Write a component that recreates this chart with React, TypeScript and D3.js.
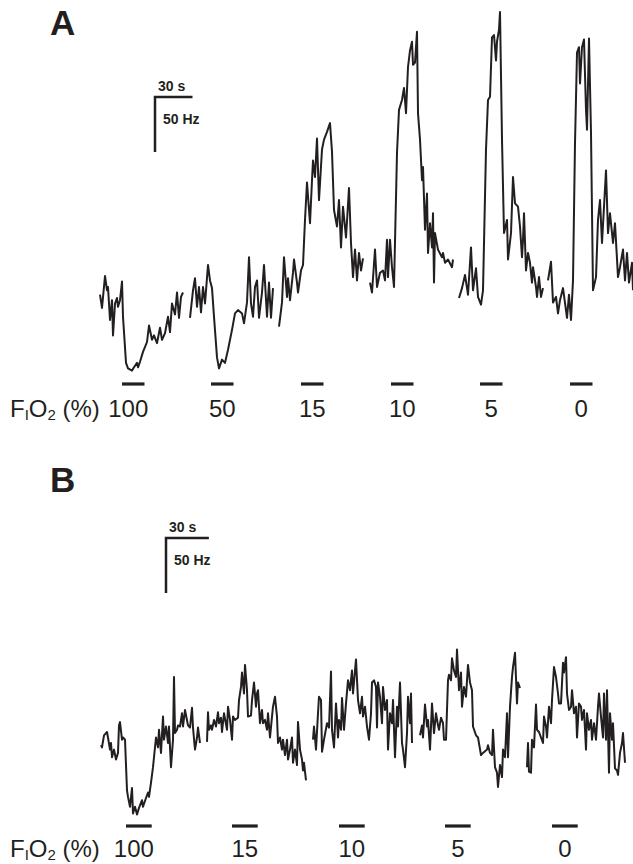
import React, { useEffect, useRef } from 'react';
import * as d3 from 'd3';

type Pt = [number, number];

// Panel A — firing rate (Hz) vs time (s), one segment per FiO2 challenge
const a100: Pt[] = [[0,73],[1.6,61],[4,90],[5.6,77],[6.4,80],[8,50],[9.6,68],[10.4,36],[12,65],[13.6,70],[14.4,62],[16,68],[17.6,85],[18.4,53],[20.8,11],[22.4,6],[25.6,4],[27.2,7],[29.6,11],[30.4,7],[32,12],[34.4,21],[37.6,30],[39.2,45],[41.6,32],[43.2,36],[45.6,29],[48,43],[49.6,32],[52,38],[54.4,53],[56,39],[57.6,65],[60,55],[61.6,75],[63.2,52],[64.8,71],[66.4,75]];
const a50: Pt[] = [[72,52],[74.4,77],[76,88],[77.6,62],[79.2,80],[80.8,57],[82.4,80],[84,65],[86.4,100],[88,86],[89.6,79],[91.2,53],[93.6,16],[95.2,6],[97.6,14],[100,11],[102.4,23],[105.6,41],[108,56],[110.4,59],[113.6,56],[115.2,47],[117.6,66],[119.2,107],[120.8,65],[122.4,53],[124,80],[125.6,86],[127.2,52],[129.6,75],[131.2,100],[133.6,53],[135.2,84],[136.8,52],[138.4,79]];
const a15: Pt[] = [[143.2,44],[145.6,66],[147.2,107],[149.6,71],[150.4,88],[152,68],[154.4,93],[155.2,105],[157.6,84],[158.4,75],[160.8,95],[162.4,100],[164,141],[165.6,175],[168,138],[169.6,177],[170.4,195],[172,180],[173.6,215],[175.2,159],[177.6,205],[179.2,214],[181.6,221],[184,229],[185.6,203],[187.2,150],[189.6,135],[191.2,159],[192.8,116],[194.4,153],[196.8,125],[199.2,170],[200.8,120],[202.4,89],[204,114],[205.6,86],[207.2,111],[208.8,95],[210.4,106]];
const a10: Pt[] = [[216,84],[217.6,75],[220,114],[221.6,80],[224,93],[226.4,95],[228,86],[229.6,123],[230.4,89],[232,123],[233.6,98],[235.2,80],[237.6,202],[239.2,241],[241.6,250],[243.2,261],[244.8,238],[246.4,280],[248,295],[249.6,303],[250.4,282],[252,284],[253.6,312],[254.4,238],[256,214],[257.6,177],[258.4,189],[260,132],[261.6,165],[262.4,111],[264,138],[265.6,116],[266.4,147],[267.2,84],[268,129],[270.4,114],[273.6,107],[274.4,111],[276,102],[278.4,105],[281.6,98],[282.4,105]];
const a5: Pt[] = [[287.2,70],[289.6,79],[292,91],[294.4,73],[296.8,116],[298.4,77],[300.8,97],[302.4,71],[304.8,64],[306.4,77],[308.8,205],[310.4,250],[312,253],[313.6,307],[315.2,309],[316.8,286],[317.6,303],[319.2,314],[320,330],[321.6,214],[323.2,129],[325.6,141],[326.4,105],[328.8,129],[330.4,180],[332,156],[334.4,153],[336,135],[337.6,107],[338.4,123],[339.2,147],[340.8,95],[342.4,111],[344,102],[345.6,84],[346.4,98],[348.8,80],[349.6,71],[351.2,89],[352.8,71],[354.4,79]];
const a0: Pt[] = [[358.4,86],[360.8,103],[362.4,66],[364.8,71],[366.4,56],[368,68],[370.4,79],[373.6,52],[375.2,73],[376.8,50],[378.4,86],[380,211],[381.6,293],[383.2,298],[384,265],[385.6,298],[387.2,305],[388.8,241],[389.6,223],[391.2,306],[392.8,220],[394.4,77],[396.8,89],[398.4,141],[400,159],[401.6,120],[403.2,153],[404.8,186],[406.4,129],[408,147],[410.4,120],[412,138],[414.4,89],[416,98],[418.4,114],[420,86],[421.6,111],[423.2,84],[425.6,102],[426.4,77]];

// Panel B
const b100: Pt[] = [[0.7,68],[1.4,66],[2.8,77],[4.9,80],[5.6,75],[7,64],[7.7,70],[8.4,57],[9.8,64],[11.2,55],[12.6,61],[13.3,86],[14,89],[15.4,73],[16.1,75],[17.5,73],[18.9,27],[19.6,21],[21,12],[22.4,29],[23.1,6],[24.5,12],[25.9,5],[27.3,11],[29.4,18],[30.1,12],[32.2,20],[33.6,25],[34.3,21],[35.7,34],[37.1,48],[39.2,75],[40.6,66],[41.3,82],[42.7,61],[44.1,94],[44.8,73],[46.2,85],[47.6,70],[48.3,85],[49.7,48],[51.1,73],[51.8,130],[52.5,79],[53.9,82],[54.6,86],[56,85],[57.4,97],[58.1,85],[59.5,100],[61.6,86],[63,84],[64.4,102],[65.1,84],[66.5,64],[67.9,75],[68.6,84],[70,70]];
const b15: Pt[] = [[74.9,71],[75.6,98],[76.3,82],[77.7,86],[78.4,82],[79.8,91],[81.2,85],[82.6,98],[83.3,88],[84.7,93],[85.4,80],[86.8,97],[88.9,82],[89.6,103],[91,91],[92.4,73],[93.1,94],[94.5,91],[96.6,93],[97.3,109],[98.7,121],[99.4,134],[100.8,115],[101.5,141],[102.9,118],[103.6,94],[105.7,95],[106.4,109],[107.8,125],[109.2,103],[109.9,115],[110.6,118],[112,88],[113.4,100],[114.1,88],[115.5,91],[116.9,82],[117.6,97],[119,75],[120.4,94],[121.1,103],[122.5,112],[123.9,94],[124.6,70],[126,75],[127.4,64],[128.1,73],[129.5,59],[130.9,73],[131.6,55],[133,64],[134.4,75],[135.1,52],[136.5,64],[137.9,50],[138.6,89],[140,64],[141.4,55],[142.1,45],[142.8,52],[144.2,36]];
const b10: Pt[] = [[149.1,73],[149.8,85],[151.2,64],[152.6,97],[153.3,112],[154.7,109],[155.4,62],[156.8,73],[158.9,88],[160.3,84],[161.7,135],[162.4,82],[163.8,66],[165.2,106],[166.6,75],[167.3,91],[168.7,82],[169.4,111],[170.8,82],[172.2,106],[173.6,127],[175,118],[176.4,136],[177.1,115],[179.2,146],[180.6,109],[182,97],[183.4,112],[184.1,94],[185.5,103],[186.9,85],[188.3,73],[189.7,97],[190.4,125],[191.8,127],[193.2,121],[193.9,84],[194.6,125],[196,112],[197.4,88],[198.1,121],[199.5,100],[200.9,109],[201.6,64],[203,97],[204.4,88],[205.1,109],[206.5,57],[207.9,103],[208.6,85],[210,125],[211.4,70],[212.1,64],[213.5,48],[214.9,79],[215.6,112],[217,88],[217.7,115],[218.4,70]];
const b5: Pt[] = [[224,77],[225.4,86],[226.1,75],[227.5,105],[228.9,85],[229.6,91],[231,64],[232.4,106],[233.8,79],[235.2,97],[236.6,86],[237.3,82],[238.7,93],[240.1,88],[240.8,73],[242.2,73],[243.6,127],[244.3,132],[245.7,127],[246.4,147],[247.8,136],[249.2,130],[249.9,155],[251.3,118],[252.7,134],[253.4,103],[254.8,121],[256.2,112],[257.6,141],[259,125],[260.4,118],[261.1,85],[263.2,77],[264.6,75],[266.7,59],[268.1,61],[270.9,64],[271.6,68],[273,61],[274.4,59],[275.1,82],[276.5,48],[277.9,43],[278.6,30],[280,50],[281.4,39],[282.1,64],[283.5,57],[284.9,97],[285.6,57],[287,103],[288.4,130],[289.1,139],[290.5,152],[291.9,106],[292.6,125],[294,120]];
const b0: Pt[] = [[298.9,48],[299.6,70],[300.3,44],[301.7,43],[302.4,73],[303.8,66],[305.2,105],[305.9,82],[307.3,80],[308.7,75],[310.1,70],[310.8,94],[312.2,85],[312.9,75],[314.3,103],[315.7,88],[316.4,109],[317.8,139],[319.2,130],[320.6,115],[321.3,106],[322.7,106],[324.1,143],[324.8,134],[326.2,148],[326.9,115],[328.3,100],[329.7,103],[330.4,118],[331.8,97],[333.2,103],[333.9,75],[335.3,106],[336.7,103],[337.4,91],[338.8,100],[340.2,64],[340.9,97],[342.3,82],[343.7,91],[344.4,73],[345.8,88],[347.2,73],[348.6,103],[349.3,115],[350.7,94],[352.1,75],[352.8,115],[354.2,73],[354.9,118],[356.3,43],[357,97],[358.4,73],[359.1,88],[360.5,47],[361.9,45],[362.6,41],[364,61],[365.4,70],[366.1,79],[367.5,52]];

// FiO2 challenges: labels and onset times (s); each hypoxic bar lasts barDur s
const levelsA = ['100', '50', '15', '10', '5', '0'];
const onsetsA = [17.6, 88.8, 160.8, 232.8, 304, 376];
const levelsB = ['100', '15', '10', '5', '0'];
const onsetsB = [18.2, 92.4, 167.3, 241.5, 316.4];
const barDur = 18;
const scaleSec = 30;
const scaleHz = 50;

const ink = '#231f20';

const App = () => {
  const svgRef = useRef<SVGSVGElement>(null);

  useEffect(() => {
    const svg = d3.select(svgRef.current);
    svg.selectAll('*').remove();

    const drawPanel = (opts: {
      letter: string; letterY: number;
      segs: Pt[][]; levels: string[]; onsets: number[];
      x: d3.ScaleLinear<number, number>; y: d3.ScaleLinear<number, number>;
      scaleOrigin: [number, number]; barY: number; labelY: number;
    }) => {
      const { letter, letterY, segs, levels, onsets, x, y, scaleOrigin, barY, labelY } = opts;
      const g = svg.append('g');

      g.append('text')
        .attr('x', 50).attr('y', letterY)
        .attr('font-family', 'Liberation Sans, Arial, sans-serif')
        .attr('font-weight', 'bold').attr('font-size', 35)
        .attr('fill', ink)
        .text(letter);

      // scale bar
      const [sx, sy] = scaleOrigin;
      const w = x(scaleSec) - x(0);
      const h = y(0) - y(scaleHz);
      g.append('path')
        .attr('d', `M${sx + w},${sy}H${sx}V${sy + h}`)
        .attr('fill', 'none').attr('stroke', ink).attr('stroke-width', 2.5);
      g.append('text')
        .attr('x', sx + 3).attr('y', sy - 6)
        .attr('font-family', 'Liberation Sans, Arial, sans-serif')
        .attr('font-weight', 'bold').attr('font-size', 14).attr('fill', ink)
        .text(`${scaleSec} s`);
      g.append('text')
        .attr('x', sx + 8).attr('y', sy + 27)
        .attr('font-family', 'Liberation Sans, Arial, sans-serif')
        .attr('font-weight', 'bold').attr('font-size', 14).attr('fill', ink)
        .text(`${scaleHz} Hz`);

      const line = d3.line<Pt>().x(d => x(d[0])).y(d => y(d[1]));
      g.selectAll('path.trace')
        .data(segs)
        .enter()
        .append('path')
        .attr('class', 'trace')
        .attr('d', d => line(d))
        .attr('fill', 'none')
        .attr('stroke', ink)
        .attr('stroke-width', 2)
        .attr('stroke-linejoin', 'round');

      g.selectAll('line.bar')
        .data(onsets)
        .enter()
        .append('line')
        .attr('class', 'bar')
        .attr('x1', d => x(d)).attr('x2', d => x(d + barDur))
        .attr('y1', barY).attr('y2', barY)
        .attr('stroke', ink).attr('stroke-width', 3.2);

      g.selectAll('text.lvl')
        .data(levels)
        .enter()
        .append('text')
        .attr('class', 'lvl')
        .attr('x', (d, i) => x(onsets[i] + barDur / 2) - (i === 0 ? 5 : 0))
        .attr('y', labelY)
        .attr('text-anchor', 'middle')
        .attr('font-family', 'Liberation Sans, Arial, sans-serif')
        .attr('font-size', 24).attr('fill', ink)
        .text(d => d);

      const lab = g.append('text')
        .attr('x', 10).attr('y', labelY)
        .attr('font-family', 'Liberation Sans, Arial, sans-serif')
        .attr('font-size', 24).attr('fill', ink);
      lab.append('tspan').text('F');
      lab.append('tspan').attr('font-size', 15).attr('dy', 3).text('I');
      lab.append('tspan').attr('dy', -3).text('O');
      lab.append('tspan').attr('font-size', 15).attr('dy', 3).text('2');
      lab.append('tspan').attr('dy', -3).text(' (%)');
    };

    const xA = d3.scaleLinear().domain([0, 426.4]).range([100, 633]);
    const yA = d3.scaleLinear().domain([0, 340]).range([375, 1]);
    drawPanel({
      letter: 'A', letterY: 35,
      segs: [a100, a50, a15, a10, a5, a0],
      levels: levelsA, onsets: onsetsA,
      x: xA, y: yA, scaleOrigin: [155, 97], barY: 384, labelY: 417,
    });

    const xB = d3.scaleLinear().domain([0, 369.6]).range([100, 628]);
    const yB = d3.scaleLinear().domain([0, 160]).range([820, 644]);
    drawPanel({
      letter: 'B', letterY: 492,
      segs: [b100, b15, b10, b5, b0],
      levels: levelsB, onsets: onsetsB,
      x: xB, y: yB, scaleOrigin: [166, 538], barY: 826, labelY: 857,
    });
  }, []);

  return (
    <svg
      ref={svgRef}
      width={633}
      height={864}
      style={{ position: 'absolute', left: 0, top: 0, background: '#fff' }}
    />
  );
};

export default App;
